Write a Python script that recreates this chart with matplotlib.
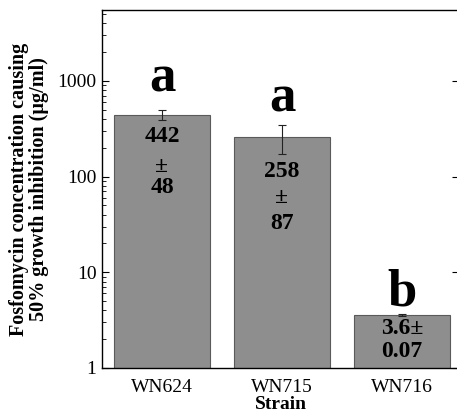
import matplotlib
matplotlib.use('Agg')
import matplotlib.pyplot as plt
from matplotlib.ticker import LogLocator, NullFormatter, FixedLocator

plt.rcParams['font.family'] = ['Liberation Serif', 'DejaVu Serif']

strains = ['WN624', 'WN715', 'WN716']
ic50 = [442, 258, 3.6]
err = [48, 87, 0.07]
groups = ['a', 'a', 'b']
value_lines = [['442', '±', '48'], ['258', '±', '87'], ['3.6±', '0.07']]

# where the text sits (data units, log axis)
group_y = [770, 474, 4.5]
value_y = [[260, 126, 76], [112, 60, 32], [2.57, 1.47]]

fig = plt.figure(figsize=(4.57, 4.13), dpi=100)
ax = fig.add_axes([0.2232, 0.109, 0.781, 0.867])

x = range(len(strains))
ax.bar(x, ic50, width=0.8, bottom=0, color='#8e8e8e', edgecolor='#5a5a5a',
       linewidth=0.8, zorder=2)
ax.errorbar(x, ic50, yerr=err, fmt='none', ecolor='#222222', elinewidth=0.8,
            capsize=3, capthick=0.8, zorder=3)

for i in x:
    ax.text(i, group_y[i], groups[i], ha='center', va='baseline',
            fontsize=38, fontweight='bold', zorder=4)
    for line, yy in zip(value_lines[i], value_y[i]):
        ax.text(i, yy, line, ha='center', va='center', fontsize=17,
                fontweight='bold', zorder=4)

ax.set_yscale('log')
ax.set_ylim(1, 5500)
ax.set_xlim(-0.5, 2.475)
ax.yaxis.set_major_locator(FixedLocator([1, 10, 100, 1000]))
ax.yaxis.set_minor_locator(LogLocator(base=10, subs=range(2, 10)))
ax.yaxis.set_minor_formatter(NullFormatter())
ax.set_yticklabels(['1', '10', '100', '1000'])
ax.set_xticks(list(x))
ax.set_xticklabels(strains)

ax.tick_params(axis='y', which='major', direction='in', length=5, width=0.8,
               labelsize=14, right=True, pad=4)
ax.tick_params(axis='y', which='minor', direction='in', length=3, width=0.6)
ax.tick_params(axis='x', length=0, labelsize=14, pad=8)

for s in ax.spines.values():
    s.set_linewidth(1.0)

ax.set_xlabel('Strain', fontsize=14, fontweight='bold', labelpad=0)
ax.set_ylabel('Fosfomycin concentration causing\n50% growth inhibition (µg/ml)',
              fontsize=14.5, fontweight='bold', labelpad=6, linespacing=1.0)

fig.savefig('out.png', dpi=100)
